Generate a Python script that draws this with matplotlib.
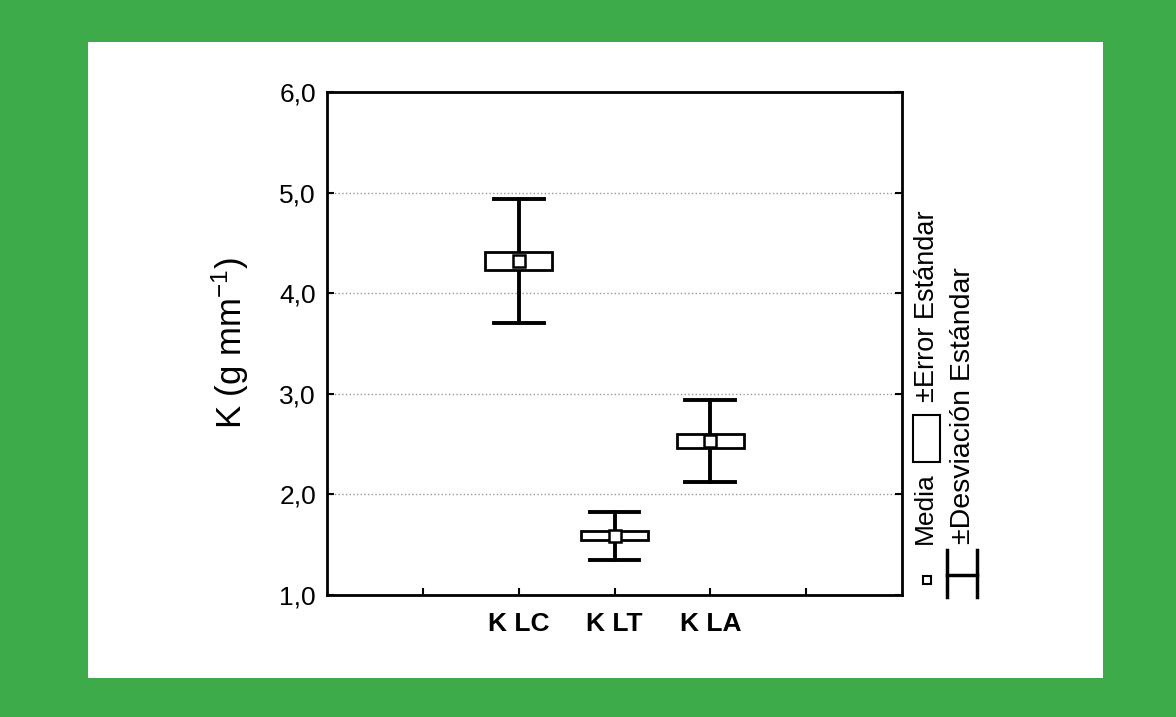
import matplotlib.pyplot as plt
from matplotlib.patches import Rectangle
from matplotlib.lines import Line2D

plt.rcParams['font.family'] = ['Liberation Sans', 'DejaVu Sans']
plt.rcParams['mathtext.default'] = 'regular'

# datos
categorias = ['K LC', 'K LT', 'K LA']
media = [4.32, 1.59, 2.53]
error_est = [0.09, 0.045, 0.07]
desv_est = [0.62, 0.24, 0.41]

posiciones = [1, 2, 3]
verde = '#3dab4a'

fig = plt.figure(figsize=(11.76, 7.17), dpi=100)
fig.patch.set_facecolor(verde)
# panel blanco
fig.patches.append(Rectangle((88 / 1176, 1 - 678 / 717), (1103 - 88) / 1176, (678 - 42) / 717,
                             transform=fig.transFigure, facecolor='white', edgecolor='none', zorder=-5))

ax = fig.add_axes([327 / 1176, 1 - 595 / 717, (902 - 327) / 1176, (595 - 92) / 717])
ax.set_facecolor('white')

for x, m, se, sd in zip(posiciones, media, error_est, desv_est):
    # bigotes (desviacion estandar)
    ax.plot([x, x], [m - sd, m - se], color='black', lw=2.8, zorder=3)
    ax.plot([x, x], [m + se, m + sd], color='black', lw=2.8, zorder=3)
    ax.plot([x - 0.26, x + 0.26], [m + sd, m + sd], color='black', lw=2.8, zorder=3)
    ax.plot([x - 0.26, x + 0.26], [m - sd, m - sd], color='black', lw=2.8, zorder=3)
    # caja (error estandar)
    ax.add_patch(Rectangle((x - 0.35, m - se), 0.7, 2 * se, facecolor='white',
                           edgecolor='black', lw=2, zorder=4))
    # media
    ax.plot(x, m, marker='s', ms=8, mfc='white', mec='black', mew=1.8, zorder=5)

ax.set_xlim(-1, 5)
ax.set_ylim(1, 6)
ax.set_xticks([0, 1, 2, 3, 4])
ax.set_xticklabels(['', categorias[0], categorias[1], categorias[2], ''])
ax.set_yticks([1, 2, 3, 4, 5, 6])
ax.set_yticklabels(['1,0', '2,0', '3,0', '4,0', '5,0', '6,0'])
ax.tick_params(axis='both', direction='in', length=5, width=1.5, labelsize=19)
ax.tick_params(axis='x', pad=12)
ax.tick_params(axis='y', right=True, pad=8)
for lbl in ax.get_xticklabels():
    lbl.set_fontweight('bold')
ax.grid(axis='y', linestyle=':', color='#999999', lw=1)
for s in ax.spines.values():
    s.set_linewidth(2)
ax.set_ylabel('K (g mm$^{-1}$)', fontsize=25, labelpad=20)

# leyenda a la derecha, girada
def fx(px):
    return px / 1176

def fy(py):
    return 1 - py / 717

fig.lines.append(Line2D([fx(927)], [fy(580)], marker='s', ms=6, mfc='white', mec='black',
                        mew=1.5, transform=fig.transFigure))
fig.text(fx(925), fy(508), 'Media', rotation=90, ha='center', va='center', fontsize=19)
fig.patches.append(Rectangle((fx(913), fy(462)), (940 - 913) / 1176, (462 - 415) / 717,
                             transform=fig.transFigure, facecolor='white', edgecolor='black', lw=1.5))
fig.text(fx(927), fy(306), '±Error Estándar', rotation=90, ha='center', va='center', fontsize=19.5)

fig.lines.append(Line2D([fx(977), fx(977)], [fy(550), fy(597)], color='black', lw=2.5,
                        transform=fig.transFigure))
fig.lines.append(Line2D([fx(947), fx(977)], [fy(575), fy(575)], color='black', lw=2.5,
                        transform=fig.transFigure))
fig.lines.append(Line2D([fx(947), fx(947)], [fy(550), fy(597)], color='black', lw=2.5,
                        transform=fig.transFigure))
fig.text(fx(963), fy(406), '±Desviación Estándar', rotation=90, ha='center', va='center', fontsize=20.5)

fig.savefig('out.png', dpi=100, facecolor=fig.get_facecolor())
